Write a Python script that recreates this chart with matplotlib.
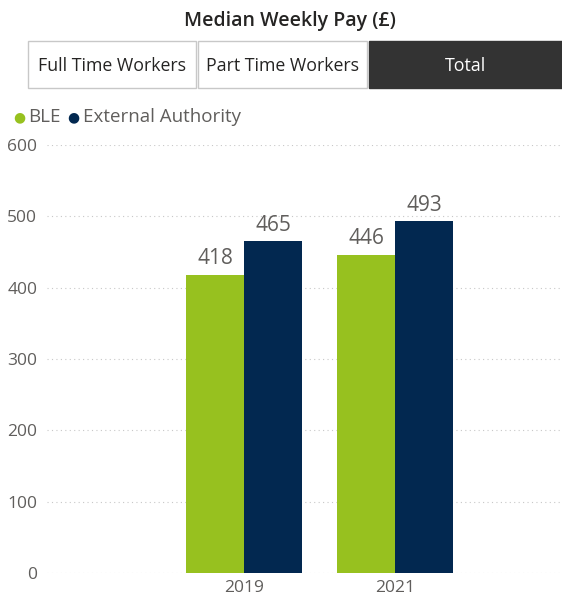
import matplotlib.pyplot as plt
from matplotlib.patches import Rectangle
import numpy as np

# data
years = ["2019", "2021"]
ble = [418, 446]
external = [465, 493]
series_names = ["BLE", "External Authority"]
buttons = ["Full Time Workers", "Part Time Workers", "Total"]

green = "#97C11F"
navy = "#022850"
grey = "#605E5C"

W, H = 562, 598
fig = plt.figure(figsize=(W / 100, H / 100), dpi=100)
plt.rcParams['font.family'] = ['Open Sans', 'DejaVu Sans']


def fx(px):
    return px / W


def fy(py):
    return 1 - py / H


# title
fig.text(fx(290), fy(21), "Median Weekly Pay (£)", ha="center", va="center",
         fontsize=14, fontweight="semibold", color="#252423")

# slicer buttons
btn_x = [(28, 196), (198, 367), (369, 562)]
for (x0, x1), label in zip(btn_x, buttons):
    active = label == "Total"
    fig.patches.append(Rectangle((fx(x0), fy(88)), fx(x1 - x0), (88 - 41) / H,
                                 transform=fig.transFigure,
                                 facecolor="#333333" if active else "white",
                                 edgecolor="#333333" if active else "#c8c8c8",
                                 linewidth=1))
    fig.text(fx((x0 + x1) / 2), fy(66), label, ha="center", va="center",
             fontsize=12.8, color="white" if active else "#252423")

# legend
fig.text(fx(19), fy(118), "●", ha="center", va="center", fontsize=10, color=green)
fig.text(fx(28), fy(117), series_names[0], ha="left", va="center", fontsize=13.5, color=grey)
fig.text(fx(73), fy(118), "●", ha="center", va="center", fontsize=10, color=navy)
fig.text(fx(83), fy(117), series_names[1], ha="left", va="center", fontsize=13.5, color=grey)

# chart
ax = fig.add_axes([fx(47), fy(573), fx(W - 47), (573 - 145) / H])
x = np.arange(len(years))
w = 0.384
b1 = ax.bar(x - w / 2, ble, width=w, color=green)
b2 = ax.bar(x + w / 2, external, width=w, color=navy)
for bars in (b1, b2):
    for rect in bars:
        ax.text(rect.get_x() + rect.get_width() / 2, rect.get_height() + 8,
                f"{rect.get_height():.0f}", ha="center", va="bottom",
                fontsize=15, color=grey)

ax.set_xlim(-1.305, 2.106)
ax.set_ylim(0, 600)
ax.set_yticks(range(0, 601, 100))
ax.set_xticks(x)
ax.set_xticklabels(years)
ax.yaxis.grid(True, linestyle=(0, (1, 3)), color="#c8c8c8", linewidth=0.8)
ax.set_axisbelow(True)
for s in ax.spines.values():
    s.set_visible(False)
ax.tick_params(length=0, labelsize=12.5, colors=grey)
ax.tick_params(axis="y", pad=7)
ax.tick_params(axis="x", pad=5)

fig.savefig("out.png", dpi=100)
